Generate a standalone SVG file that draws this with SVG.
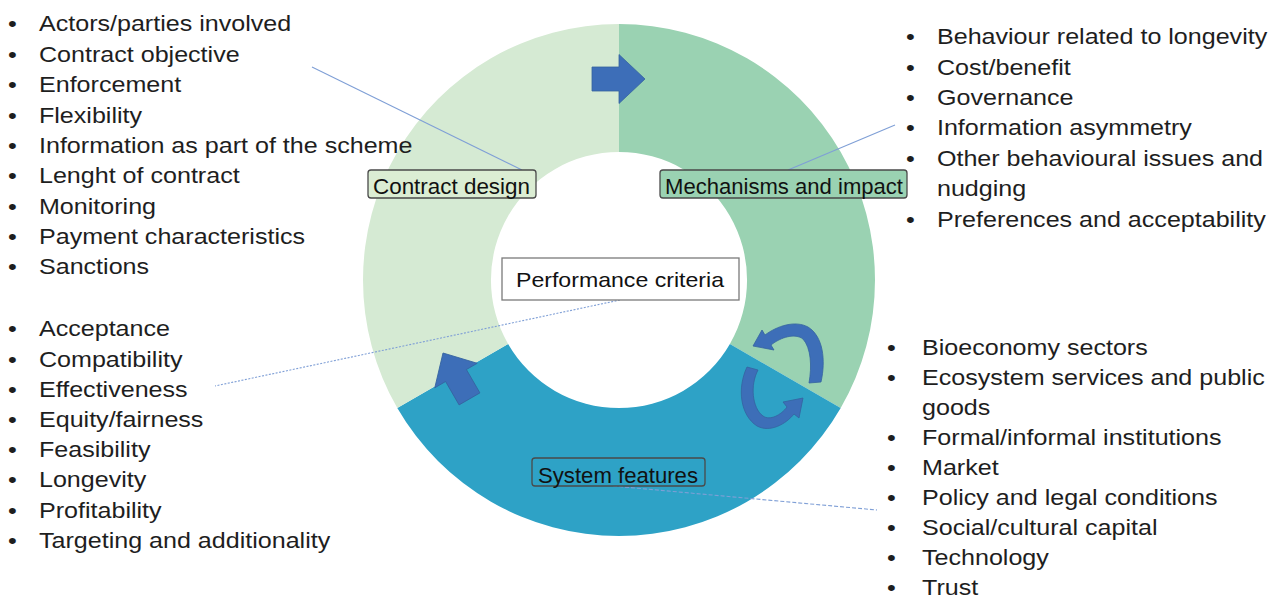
<svg xmlns="http://www.w3.org/2000/svg" width="1279" height="600" viewBox="0 0 1279 600">
<style>
.list text{font-family:"Liberation Sans",Arial,sans-serif;font-size:22px;fill:#1e1e1e}
.lbl{font-family:"Liberation Sans",Arial,sans-serif;font-size:22px;fill:#111}
.lblbox{stroke:#4a4a4a;stroke-width:1.3}
.conn{fill:none;stroke:#7f9fd6;stroke-width:1.1}
.arrow{fill:#3d6eb8;stroke:#35639f;stroke-width:0.8}
</style>
<defs>
<polygon id="blockArrow" points="-53,-12 -26,-12 -26,-24.5 0,0 -26,24.5 -26,12 -53,12"/>
</defs>
<rect width="1279" height="600" fill="#ffffff"/>

<g id="ring">
  <path id="seg-mechanisms" d="M619,24 A256,256 0 0 1 840.7,408 L729.9,344 A128,128 0 0 0 619,152 Z" fill="#9ad2b2"/>
  <path id="seg-system" d="M840.7,408 A256,256 0 0 1 397.3,408 L508.1,344 A128,128 0 0 0 729.9,344 Z" fill="#2ea2c6"/>
  <path id="seg-contract" d="M397.3,408 A256,256 0 0 1 619,24 L619,152 A128,128 0 0 0 508.1,344 Z" fill="#d5ead3"/>
</g>

<g id="flow-arrows">
  <use href="#blockArrow" class="arrow" transform="translate(645,79)"/>
  <use href="#blockArrow" class="arrow" transform="translate(443,353) rotate(-120)"/>
  <path id="cycle-upper" class="arrow" d="M821,382 C826,360 823,336 808,327 C795,320 777,326 765,335 L762,330 L753,346 L774,350 L771,345 C781,337 795,333 803,339 C811,348 812,366 809,383 Z"/>
  <path id="cycle-lower" class="arrow" d="M747,367 C737,388 740,415 757,426 C770,433 786,424 794,414 L799,418 L803,398 L783,402 L787,407 C781,415 770,421 763,416 C752,408 750,385 758,370 Z"/>
</g>

<g id="connectors">
  <line class="conn" x1="312" y1="67" x2="522" y2="170"/>
  <line class="conn" x1="788" y1="170" x2="895" y2="125"/>
  <line class="conn" x1="620" y1="300" x2="215" y2="386" stroke="#4472c4" stroke-dasharray="2 1.5"/>
  <line class="conn" x1="613" y1="486" x2="877" y2="510" stroke="#4472c4" stroke-dasharray="4 2"/>
</g>

<g id="node-contract-design">
  <rect class="lblbox" x="368" y="170" width="168" height="28" rx="3" fill="#dbedd3"/>
  <text class="lbl" x="373" y="194" textLength="157" lengthAdjust="spacingAndGlyphs">Contract design</text>
</g>
<g id="node-mechanisms">
  <rect class="lblbox" x="660" y="170" width="247" height="28" rx="3" fill="#9ad2b2"/>
  <text class="lbl" x="665" y="194" textLength="238" lengthAdjust="spacingAndGlyphs">Mechanisms and impact</text>
</g>
<g id="node-system">
  <rect class="lblbox" x="532" y="458" width="173" height="28" rx="3" fill="#2ea2c6"/>
  <text class="lbl" x="538" y="482.5" textLength="160" lengthAdjust="spacingAndGlyphs">System features</text>
</g>
<g id="node-performance">
  <rect x="502" y="258" width="237" height="42" fill="#ffffff" stroke="#7a7a7a" stroke-width="1.3"/>
  <text x="516" y="286.5" font-family="'Liberation Sans',Arial,sans-serif" font-size="21" fill="#111" textLength="208" lengthAdjust="spacingAndGlyphs">Performance criteria</text>
</g>

<g id="list-contract-design" class="list" transform="matrix(1.14 0 0 1 0 0)">
  <text x="7" y="31.5">•</text><text x="34.2" y="31.5">Actors/parties involved</text>
  <text x="7" y="61.9">•</text><text x="34.2" y="61.9">Contract objective</text>
  <text x="7" y="92.2">•</text><text x="34.2" y="92.2">Enforcement</text>
  <text x="7" y="122.6">•</text><text x="34.2" y="122.6">Flexibility</text>
  <text x="7" y="152.9">•</text><text x="34.2" y="152.9">Information as part of the scheme</text>
  <text x="7" y="183.3">•</text><text x="34.2" y="183.3">Lenght of contract</text>
  <text x="7" y="213.6">•</text><text x="34.2" y="213.6">Monitoring</text>
  <text x="7" y="244">•</text><text x="34.2" y="244">Payment characteristics</text>
  <text x="7" y="274.3">•</text><text x="34.2" y="274.3">Sanctions</text>
</g>

<g id="list-performance" class="list" transform="matrix(1.14 0 0 1 0 0)">
  <text x="7" y="336.5">•</text><text x="34.2" y="336.5">Acceptance</text>
  <text x="7" y="366.7">•</text><text x="34.2" y="366.7">Compatibility</text>
  <text x="7" y="396.9">•</text><text x="34.2" y="396.9">Effectiveness</text>
  <text x="7" y="427.1">•</text><text x="34.2" y="427.1">Equity/fairness</text>
  <text x="7" y="457.3">•</text><text x="34.2" y="457.3">Feasibility</text>
  <text x="7" y="487.5">•</text><text x="34.2" y="487.5">Longevity</text>
  <text x="7" y="517.7">•</text><text x="34.2" y="517.7">Profitability</text>
  <text x="7" y="547.9">•</text><text x="34.2" y="547.9">Targeting and additionality</text>
</g>

<g id="list-mechanisms" class="list" transform="matrix(1.14 0 0 1 0 0)">
  <text x="794.7" y="44.3">•</text><text x="821.9" y="44.3">Behaviour related to longevity</text>
  <text x="794.7" y="74.7">•</text><text x="821.9" y="74.7">Cost/benefit</text>
  <text x="794.7" y="105.1">•</text><text x="821.9" y="105.1">Governance</text>
  <text x="794.7" y="135.5">•</text><text x="821.9" y="135.5">Information asymmetry</text>
  <text x="794.7" y="165.9">•</text><text x="821.9" y="165.9">Other behavioural issues and</text>
  <text x="821.9" y="196.3">nudging</text>
  <text x="794.7" y="226.7">•</text><text x="821.9" y="226.7">Preferences and acceptability</text>
</g>

<g id="list-system" class="list" transform="matrix(1.14 0 0 1 0 0)">
  <text x="778.1" y="355">•</text><text x="808.8" y="355">Bioeconomy sectors</text>
  <text x="778.1" y="385">•</text><text x="808.8" y="385">Ecosystem services and public</text>
  <text x="808.8" y="415">goods</text>
  <text x="778.1" y="445">•</text><text x="808.8" y="445">Formal/informal institutions</text>
  <text x="778.1" y="475">•</text><text x="808.8" y="475">Market</text>
  <text x="778.1" y="505">•</text><text x="808.8" y="505">Policy and legal conditions</text>
  <text x="778.1" y="535">•</text><text x="808.8" y="535">Social/cultural capital</text>
  <text x="778.1" y="565">•</text><text x="808.8" y="565">Technology</text>
  <text x="778.1" y="595">•</text><text x="808.8" y="595">Trust</text>
</g>
</svg>
